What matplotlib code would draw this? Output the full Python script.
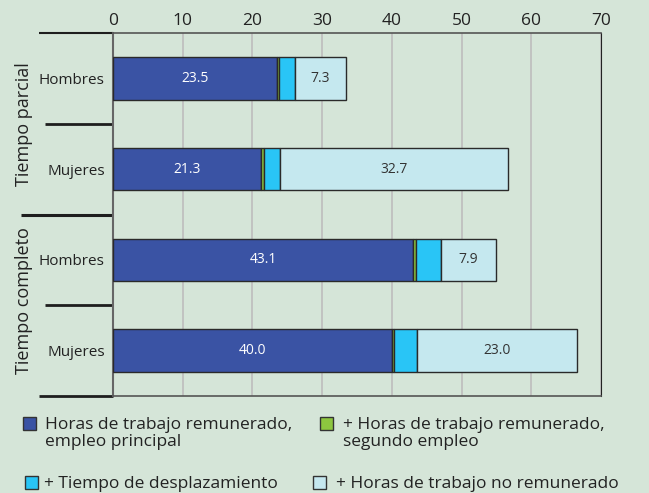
import numpy as np
import matplotlib.pyplot as plt
from matplotlib.patches import Rectangle

# datos (horas semanales)
grupos = ["Tiempo parcial", "Tiempo completo"]
categorias = ["Hombres", "Mujeres", "Hombres", "Mujeres"]
remunerado_principal = [23.5, 21.3, 43.1, 40.0]
remunerado_segundo = [0.3, 0.3, 0.3, 0.3]
desplazamiento = [2.3, 2.4, 3.6, 3.3]
no_remunerado = [7.3, 32.7, 7.9, 23.0]
xticks = [0, 10, 20, 30, 40, 50, 60, 70]

series = [remunerado_principal, remunerado_segundo, desplazamiento, no_remunerado]
colores = ["#3a53a4", "#8dc63f", "#29c5f6", "#c5e8ef"]
leyenda = ["Horas de trabajo remunerado,\nempleo principal",
           "+ Horas de trabajo remunerado,\nsegundo empleo",
           "+ Tiempo de desplazamiento",
           "+ Horas de trabajo no remunerado"]

bg = "#d5e5d8"
plt.rcParams["font.family"] = ["Open Sans", "DejaVu Sans"]

fig = plt.figure(figsize=(6.49, 4.93), dpi=100, facecolor=bg)
ax = fig.add_axes([113 / 649, 1 - 396 / 493, 488 / 649, 363 / 493])
ax.set_facecolor(bg)

y = np.arange(len(categorias))
left = np.zeros(len(categorias))
for vals, col in zip(series, colores):
    ax.barh(y, vals, left=left, height=0.47, color=col,
            edgecolor="#2a2a2a", linewidth=1.0, zorder=3)
    left = left + np.array(vals)

# etiquetas dentro de las barras
for i in range(len(categorias)):
    x0 = remunerado_principal[i]
    ax.text(x0 / 2, y[i], f"{x0:.1f}", ha="center", va="center",
            color="white", fontsize=10, zorder=4)
    start = remunerado_principal[i] + remunerado_segundo[i] + desplazamiento[i]
    ax.text(start + no_remunerado[i] / 2, y[i], f"{no_remunerado[i]:.1f}",
            ha="center", va="center", color="#333333", fontsize=10, zorder=4)

ax.set_xlim(0, 70)
ax.set_ylim(3.5, -0.5)
ax.set_xticks(xticks)
ax.xaxis.tick_top()
ax.tick_params(axis="x", length=0, labelsize=12.5, pad=3, colors="#222222")
ax.set_yticks(y)
ax.set_yticklabels(categorias)
ax.tick_params(axis="y", length=0, labelsize=11, pad=6, colors="#222222")
ax.grid(axis="x", color="#bdbdbd", linewidth=1.2, zorder=0)

ax.spines["left"].set_color("#666666")
ax.spines["left"].set_linewidth(1.5)
ax.spines["top"].set_color("#555555")
ax.spines["top"].set_linewidth(1.2)
ax.spines["right"].set_color("#222222")
ax.spines["bottom"].set_color("#555555")
ax.spines["bottom"].set_linewidth(1.2)

# separadores en el margen izquierdo
tr = ax.get_yaxis_transform()
seps = [(-0.5, -0.152, 1.5), (0.5, -0.139, 2.0), (1.5, -0.189, 2.2),
        (2.5, -0.139, 2.0), (3.5, -0.152, 2.0)]
for yy, x0, lw in seps:
    ax.plot([x0, 0], [yy, yy], transform=tr, color="#1e1e1e",
            linewidth=lw, clip_on=False, solid_capstyle="butt")

# nombres de los grupos
ax.text(-0.182, 0.5, grupos[0], transform=tr, rotation=90, ha="center",
        va="center", fontsize=13, color="#222222")
ax.text(-0.182, 2.45, grupos[1], transform=tr, rotation=90, ha="center",
        va="center", fontsize=13, color="#222222")

# leyenda manual: (borde izq. del cuadro, centro y, inicio del texto) en px
pos = [(23, 423, 45), (320, 423, 343), (25, 482, 44), (313, 482, 336)]
for (sx, cy, tx), col, lab in zip(pos, colores, leyenda):
    fig.patches.append(Rectangle((sx / 649, 1 - (cy + 7) / 493),
                                 13 / 649, 13 / 493, transform=fig.transFigure,
                                 facecolor=col, edgecolor="#333333",
                                 linewidth=1.0))
    fig.text(tx / 649, 1 - (cy - 6) / 493, lab, ha="left", va="top",
             fontsize=12.5, color="#222222", linespacing=1.05)

fig.savefig("out.png", dpi=100, facecolor=bg)
